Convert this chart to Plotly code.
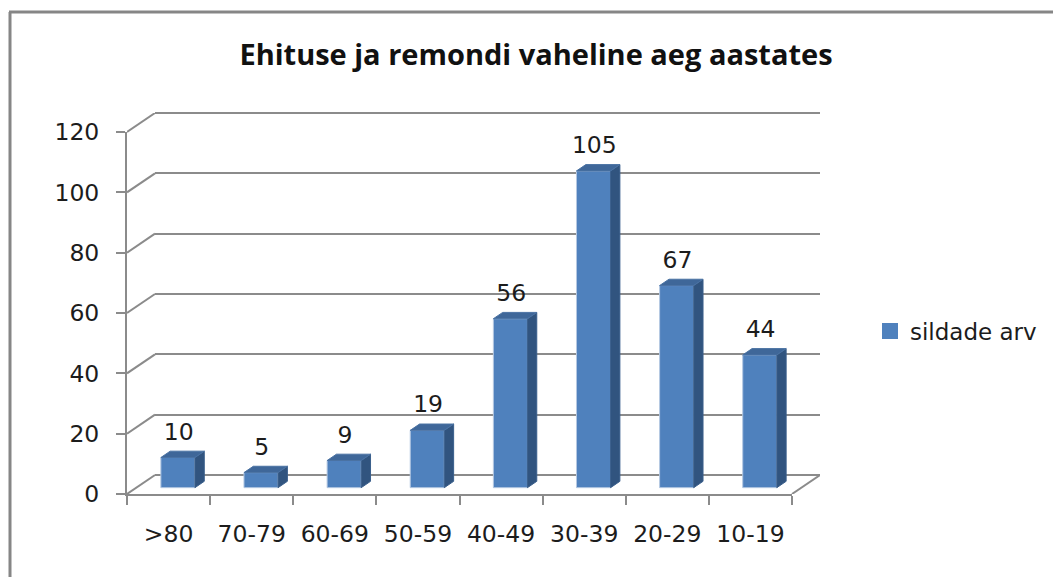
import plotly.graph_objects as go

categories = [">80", "70-79", "60-69", "50-59", "40-49", "30-39", "20-29", "10-19"]
values = [10, 5, 9, 19, 56, 105, 67, 44]
y_ticks = [0, 20, 40, 60, 80, 100, 120]
series_name = "sildade arv"
title = "Ehituse ja remondi vaheline aeg aastates"

W, H = 1053, 577
FL, FR, FB, FT = 127, 792, 494, 132      # front plane, px
DX, DY = 28, 19                          # wall depth, px
CAT_PX = (FR - FL) / len(categories)
VAL_PX = (FB - FT) / max(y_ticks)
DEPTH_X = DX / CAT_PX
DEPTH_Y = DY / VAL_PX
BAR_W = 0.41
GRID_PAD = 2                             # value units so the end gridlines are kept
FONT = "DejaVu Sans"
TXT = "#1c1c1c"
GRID = "#8b8b8b"

fx = lambda a, b: [a / W, b / W]
fy = lambda a, b: [1 - b / H, 1 - a / H]

n = len(categories)
sx = DEPTH_X / 3
sy = DEPTH_Y / 3
xs = [i + sx for i in range(n)]

side_x, side_y, top_x, top_y = [], [], [], []
for x, v in zip(xs, values):
    r = x + BAR_W / 2
    l = x - BAR_W / 2
    b0, t0 = sy, v + sy
    side_x += [r, r + sx, r + sx, r, r, None]
    side_y += [b0, b0 + sy, t0 + sy, t0, b0, None]
    top_x += [l, r, r + sx, l + sx, l, None]
    top_y += [t0, t0, t0 + sy, t0 + sy, t0, None]

diag_x, diag_y = [], []
for t in y_ticks:
    diag_x += [-0.5, -0.5 + DEPTH_X, None]
    diag_y += [t, t + DEPTH_Y, None]
diag_x += [n - 0.5, n - 0.5 + DEPTH_X, None]
diag_y += [0, DEPTH_Y, None]

fig = go.Figure()
# front axes (ticks and labels)
fig.add_trace(go.Scatter(x=categories, y=values, mode="markers", marker=dict(opacity=0),
                         showlegend=False, hoverinfo="skip", xaxis="x", yaxis="y"))
# back wall gridlines
fig.add_trace(go.Scatter(x=categories, y=values, mode="markers", marker=dict(opacity=0),
                         showlegend=False, hoverinfo="skip", xaxis="x2", yaxis="y2"))
# 3D box
fig.add_trace(go.Scatter(x=diag_x, y=diag_y, mode="lines", line=dict(color=GRID, width=2),
                         showlegend=False, hoverinfo="skip", xaxis="x3", yaxis="y3", cliponaxis=False))
fig.add_trace(go.Bar(x=xs, y=values, base=sy, width=BAR_W, name=series_name, showlegend=False,
                     marker=dict(color="#4F81BD", line=dict(color="#B4C8E2", width=1)),
                     xaxis="x3", yaxis="y3"))
fig.add_trace(go.Scatter(x=side_x, y=side_y, mode="lines", fill="toself", fillcolor="#31547F",
                         line=dict(color="#3A5F8C", width=1), showlegend=False, hoverinfo="skip",
                         xaxis="x3", yaxis="y3"))
fig.add_trace(go.Scatter(x=top_x, y=top_y, mode="lines", fill="toself", fillcolor="#3F6799",
                         line=dict(color="#4A72A3", width=1), showlegend=False, hoverinfo="skip",
                         xaxis="x3", yaxis="y3"))
fig.add_trace(go.Scatter(x=[i + sx + 0.01 for i in range(n)], y=[v + sy + 7.9 for v in values],
                         text=[str(v) for v in values], mode="text", textposition="middle center",
                         textfont=dict(family=FONT, size=23.5, color=TXT), showlegend=False,
                         hoverinfo="skip", cliponaxis=False, xaxis="x3", yaxis="y3"))
# legend entry
fig.add_trace(go.Scatter(x=[None], y=[None], mode="markers", name=series_name,
                         marker=dict(symbol="square", size=16, color="#4F81BD"),
                         xaxis="x3", yaxis="y3"))

axis_font = dict(family=FONT, size=23.5, color=TXT)
pad_px = GRID_PAD * VAL_PX
fig.update_layout(
    width=W, height=H, autosize=False,
    margin=dict(l=0, r=0, t=0, b=0, autoexpand=False),
    paper_bgcolor="white", plot_bgcolor="rgba(0,0,0,0)",
    font=dict(family=FONT, color=TXT),
    title=dict(text=f"<b>{title}</b>", x=536 / W, xanchor="center", y=1 - 55 / H, yanchor="middle",
               font=dict(family="Open Sans", size=29, color="#111111")),
    xaxis=dict(domain=fx(FL, FR), type="category", categoryorder="array", categoryarray=categories,
               range=[-0.5, n - 0.5], tickson="boundaries", ticks="outside", ticklen=9, tickwidth=2,
               tickcolor=GRID, showline=True, linewidth=2, linecolor=GRID, showgrid=False,
               tickfont=axis_font, ticklabelstandoff=18, anchor="y"),
    yaxis=dict(domain=fy(FT, FB), range=[0, max(y_ticks)], tickvals=y_ticks, ticks="outside", ticklen=9,
               tickwidth=2, tickcolor=GRID, showline=True, linewidth=2, linecolor=GRID, showgrid=False,
               zeroline=False, tickfont=axis_font, ticklabelstandoff=12, anchor="x"),
    xaxis2=dict(domain=fx(FL + DX, FR + DX), type="category", categoryorder="array",
                categoryarray=categories, range=[-0.5, n - 0.5], visible=False, anchor="y2"),
    yaxis2=dict(domain=fy(FT - DY - pad_px, FB - DY + pad_px),
                range=[-GRID_PAD, max(y_ticks) + GRID_PAD], tickvals=y_ticks, showgrid=True,
                gridcolor=GRID, gridwidth=2, zeroline=False, showline=False, ticks="",
                showticklabels=False, anchor="x2"),
    xaxis3=dict(domain=fx(FL, FR + DX), range=[-0.5, n - 0.5 + DEPTH_X], visible=False, anchor="y3"),
    yaxis3=dict(domain=fy(FT - DY, FB), range=[0, max(y_ticks) + DEPTH_Y], visible=False, anchor="x3"),
    legend=dict(x=870 / W, xanchor="left", y=1 - 331 / H, yanchor="middle", bgcolor="rgba(0,0,0,0)",
                font=dict(family=FONT, size=23, color=TXT)),
    shapes=[
        dict(type="line", xref="paper", yref="paper", x0=10 / W, x1=10 / W, y0=0, y1=1 - 12 / H,
             line=dict(color="#868686", width=3)),
        dict(type="line", xref="paper", yref="paper", x0=9 / W, x1=1, y0=1 - 12 / H, y1=1 - 12 / H,
             line=dict(color="#868686", width=3)),
    ],
)

fig.write_html("out.html", config=dict(displayModeBar=False),
               post_script="document.body.style.margin='0';document.body.style.overflow='hidden';")
